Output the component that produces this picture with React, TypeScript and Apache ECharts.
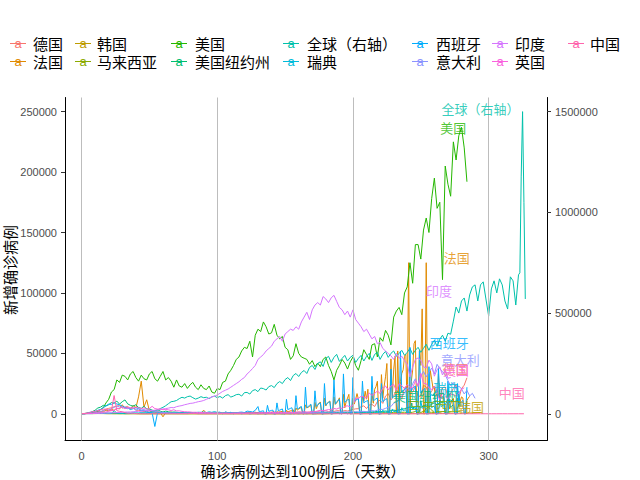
import React, { useEffect, useRef } from "react";
import * as echarts from "echarts";

const LATIN = "'Liberation Sans', Arial, sans-serif";
const CJK = "'Noto Sans CJK SC', 'Liberation Sans', sans-serif";

// ---- axis ticks ----
const xTicks = [0, 100, 200, 300];
const leftTicks = [0, 50000, 100000, 150000, 200000, 250000];
const rightTicks = [0, 500000, 1000000, 1500000];

// ---- series values (thousands of new cases per day); segments: [startDay, stepDays, values] ----
const germanyK = [0.1,0.2,0.3,0.4,0.8,1.0,2.0,1.5,2.8,3.9,4.5,5.0,5.8,6.3,6.9,4.7,5.5,6.1,4.1,5.3,3.0,2.8,2.5,1.8,2.1,1.3,1.5,1.2,0.9,1.3,0.8,0.7,0.9,0.6,0.5,0.8,0.4,0.5,0.3,0.4,0.3,0.4,0.3,0.5,0.4,0.3,0.3,0.5,0.4,0.3,0.6,0.5,0.4,0.6,0.4,0.3,0.5,0.4,0.6,0.4,0.5,0.7,0.6,0.9,0.8,0.9,0.7,1.0,1.2,1.0,1.4,1.5,1.3,1.6,1.2,1.4,1.6,1.3,1.5,1.2,1.5,1.3,1.7,1.2,1.5,1.9,1.6,1.8,1.4,2.1,2.5,1.8,2.3,1.9,2.6,2.5,2.0,2.7,2.3,2.9,3.6,4.1,4.2,5.9,6.6,4.3,7.3,7.8,6.0,10.1,11.2,8.6,14.7,16.8,11.4,15.0,19.6,16.0,12.1,21.5,23.4,16.0,18.0,22.6,14.4,14.0,23.6,22.2,15.7,18.6,22.8,13.6,14.0,21.7,22.1,14.0,17.3,20.8,24.0,12.3,20.8,23.7,29.8];

const franceEarlyK = [0.1,0.1,0.3,0.4,0.8,1.0,1.4,1.8,1.6,3.0,2.5,3.8,2.8,4.6,4.0,7.5,4.3,5.2,3.9,7.0,4.8,14.0,27.0,5.5,11.6,2.5,1.6,2.2,1.8,1.1,-2.5,1.0,0.8,1.5,0.5,0.4,0.3,0.6,0.4,0.3,0.5,0.3,0.4,0.6,0.5,3.0,0.4,0.3,0.5,0.4,0.6,0.5,0.3,0.7,0.5,0.6,0.8,0.5,0.9,0.6,1.0,0.8,1.2,0.9,1.3];
const franceLateK = [
  0.5,0.6,0.8,0.7,1.0,0,0,
  1.2,0.8,1.0,1.1,1.4,0,0,
  1.7,1.0,1.4,1.6,2.3,0,0,
  3.0,1.4,2.0,2.5,2.6,3.3,0,
  4.8,3.0,3.8,4.7,5.4,0,0,
  7.4,4.9,5.4,6.1,7.2,0,0,
  9.4,4.2,7.0,8.6,9.8,0,0,
  13.0,6.5,8.6,9.8,10.6,0,0,
  14.0,7.8,9.0,10.6,13.2,0,0,
  16.1,5.0,10.0,13.0,16.1,0,0,
  12.8,8.0,12.0,16.7,12.1,0,0,
  14.4,10.5,18.7,12.1,20.3,0,0,
  16.9,8.7,20.3,22.6,26.9,0,0,
  32.4,12.9,22.9,30.6,41.6,0,0,
  45.4,13.2,36.4,47.6,0,52.0,0,
  26.8,33.4,36.4,47.6,49.2,0,125.0,
  0,26.8,36.3,58.0,60.5,0,0,
  52.5,40.0,86.8,0,0,125.0,0,
  20.0,35.9,28.4,21.2,23.0,0,0,
  33.0,10.0,16.3,12.5,13.6,0,0,
  12.6,4.0,8.0,11.2,12.7,0,0,
  13.0,6.0,10.2,14.0,13.1,0,0,
  11.0,13.0,14.5,
];

const koreaEarlyK = [0.05,0.2,0.5,0.6,0.8,0.6,0.5,0.4,0.25,0.1,0.1,0.15,0.1,0.15,0.1,0.1,0.1,0.1,0.08,0.1,0.08,0.05,0.04,0.03,0.03];
const koreaMidK = [0.03,0.02,0.05,0.03,0.02,0.03,0.04,0.03,0.05,0.04,0.03,0.05,0.06,0.04,0.05,0.04,0.05,0.06,0.04,0.05,0.03,0.04,0.06,0.05,0.04,0.03,0.04,0.05,0.06,0.04,0.03,0.05,0.08];
const koreaLateK = [0.1,0.2,0.3,0.4,0.3,0.35,0.3,0.25,0.2,0.15,0.12,0.1,0.1,0.11,0.08,0.07,0.1,0.06,0.1,0.08,0.07,0.09,0.1,0.07,0.1,0.08,0.1,0.12,0.1,0.09,0.13,0.1,0.12,0.14,0.1,0.15,0.1,0.13,0.16,0.2,0.2,0.22,0.3,0.35,0.33,0.4,0.5,0.55,0.45,0.5,0.6,0.55,0.5,0.6,0.7,0.65,0.9,0.95];

const malaysiaEarlyK = [0.19,0.12,0.15,0.2,0.1,0.14,0.2,0.17,0.15,0.18,0.12,0.1,0.08,0.06,0.04,0.07,0.05,0.03,0.05,0.07,0.04];
const malaysiaMidK = [0.03,0.02,0.03,0.06,0.02,0.03,0.08,0.04,0.02,0.02,0.01,0.01,0.02,0.01,0.01,0.02,0.01,0.01,0.02,0.01,0.01,0.02,0.02,0.01,0.03,0.02,0.02,0.03,0.02,0.05,0.03,0.04,0.05,0.03,0.04,0.06,0.1,0.26,0.32,0.37];
const malaysiaLateK = [0.3,0.6,0.7,0.9,0.6,0.8,0.7,1.2,0.8,0.9,0.6,1.0,0.8,1.1,1.2,0.9,0.8,1.0,1.2,1.3,1.1,1.0,1.3,1.9,1.2,1.1,1.9,2.5,1.4,1.2,1.1,1.5,1.2,1.9,1.8,1.3,1.6];

const usK = [
  0.1,0.1,0.3,0.5,0.6,1.0,2.0,3.5,5,9,
  12,18,20,28,26,32,31,28,33,35,
  30,27,32,29,28,33,35,29,27,31,
  35,28,30,27,22,28,23,22,25,21,
  24,26,22,20,24,21,20,23,18,17,
  21,20,26,27,33,36,40,45,47,52,
  55,54,60,47,65,70,68,76,72,66,
  67,74,65,62,64,55,53,45,48,58,
  50,47,46,45,41,44,39,42,39,45,
  47,40,35,28,36,40,45,42,37,43,
  47,40,36,44,53,49,45,57,58,47,
  63,60,69,65,57,80,85,88,82,100,
  105,125,108,140,140,128,152,162,150,178,
  195,170,175,111,205,190,180,225,210,230,
  237,220,192,
];

const nyK = [
  0.05,0.1,0.3,0.8,1.8,3.0,4.8,5.5,7.0,6.5,
  7.5,9.3,8.7,10.5,8.0,10.0,11.5,8.2,7.0,6.3,
  7.5,5.2,4.5,6.2,3.9,4.1,3.0,2.4,3.4,2.2,
  1.5,2.2,1.7,1.2,1.5,1.3,1.0,1.1,0.9,0.8,
  0.7,0.8,0.6,0.7,0.6,0.6,0.7,0.6,0.5,0.6,
  0.7,0.6,0.8,0.7,0.6,0.7,0.8,0.6,0.7,0.6,
  0.7,0.8,0.7,0.6,0.7,0.7,0.6,0.7,0.6,0.7,
  0.6,0.7,0.6,0.7,0.6,0.7,0.6,0.7,0.8,0.7,
  0.6,0.7,0.8,0.7,0.9,0.8,1.0,0.9,0.8,0.9,
  1.0,0.9,0.8,1.0,1.1,0.9,1.0,1.2,0.9,1.1,
  1.2,1.0,1.3,1.4,1.1,1.5,1.6,1.3,1.7,1.9,
  1.6,2.0,2.3,2.0,2.6,3.0,2.7,3.2,3.7,4.2,
  5.0,5.6,4.9,5.9,6.3,5.2,6.8,7.3,6.2,8.1,
  9.0,7.4,9.3,10.2,8.4,10.8,11.3,9.6,10.6,11.5,
];

// global: thousands, plotted on the right axis
const globalK = [
  0.3,0.6,1.7,2.0,2.1,2.8,3.2,3.7,3.9,3.5,
  3.0,2.1,15.1,4.0,2.5,1.9,0.8,1.0,1.4,1.8,
  2.3,2.6,3.9,4.5,4.0,7.0,10.5,13.5,17.0,26.0,
  32,40,50,60,62,66,75,82,78,85,
  88,80,73,78,85,80,82,75,84,88,
  80,86,78,90,95,83,88,95,97,88,
  105,106,98,115,120,110,128,125,118,135,
  140,130,150,160,150,170,180,165,190,200,
  185,205,215,200,230,240,220,250,258,235,
  275,285,255,280,295,260,275,290,262,280,
  290,255,275,290,262,285,300,265,295,305,
  270,295,310,280,300,312,285,300,315,290,
  305,325,295,315,330,305,325,345,315,345,
  365,335,370,390,360,400,395,460,530,500,
  560,575,510,590,630,640,560,640,655,570,
  485,620,660,600,670,640,560,520,680,660,
  540,690,
];
const globalEndK = [700, 1180, 1500, 1050, 570];

const swedenEarlyK = [
  0.1,0.1,0.15,0.1,0.2,0.3,0.3,0.4,0.3,0.5,
  0.4,0.5,0.7,0.5,0.6,0.5,0.8,0.7,0.6,0.8,
  0.7,0.6,0.8,0.5,0.7,0.6,0.8,0.7,0.5,0.8,
  0.6,0.7,0.5,0.8,0.6,0.7,0.8,0.6,0.9,1.0,
  0.8,1.1,1.0,1.3,1.2,1.5,1.0,1.6,1.2,1.8,
  1.1,1.4,0,1.6,0.9,1.2,0,0.8,0.6,0,
  0.5,0.4,0,0.3,0.4,0,0.3,0.2,0,0.3,
  0.25,0,0.3,0.25,0,0.3,0.2,0,0.3,0.25,
  0,0.3,0.3,0,0.3,0.25,0,0.3,0.4,0,
  0.4,0.5,0,0.5,0.6,0,0.7,0.6,0,0.8,
];
const swedenLateK = [
  0,1.5,0.8,0.9,1.0,0,0,
  0,1.8,0.9,1.0,1.1,0,0,
  0,2.2,1.0,1.2,1.4,0,0,
  0,3.0,1.3,1.4,1.7,0,0,
  0,4.0,1.8,2.0,2.3,0,0,
  0,5.0,2.5,3.0,3.3,0,0,
  0,9.0,4.0,4.6,5.2,0,0,
  0,11.0,4.5,5.5,5.8,0,0,
  0,15.0,5.0,6.0,6.5,0,0,
  0,14.0,6.0,6.7,7.0,0,0,
  0,12.0,5.5,6.5,7.5,0,0,
  0,18.0,6.5,7.0,
];

const spainEarlyK = [
  0.1,0.2,0.5,1.2,1.5,2.0,2.9,3.6,5.0,6.5,
  8.0,7.8,9.2,8.1,7.5,6.2,5.4,4.8,3.5,4.2,
  5.0,4.3,2.5,2.8,1.5,1.2,0.8,-10.5,1.0,0.7,
  0.5,0.6,0.4,0.3,0.5,0.4,0.3,0.5,0.3,0.2,
  0.4,0.3,0.3,0.2,0.4,0.3,0.3,0.4,0.3,0.5,
  0.4,0.3,0.5,0.6,0.4,0.8,0.9,0.6,1.2,1.4,
  1.0,2.2,1.9,1.5,2.8,
];
const spainLateK = [
  6,1.5,2.0,2.2,2.5,0,0,
  7,2.0,2.5,2.8,3.0,0,0,
  9,2.5,3.0,3.5,4.0,0,0,
  12,3.5,4.0,4.5,5.0,0,0,
  15,4.0,4.5,5.5,6.0,0,0,
  22,5.0,6.0,7.0,8.0,0,0,
  19,6.0,7.5,8.5,9.0,0,0,
  25,7.0,8.5,9.5,10.0,0,0,
  28,8.0,10.0,11.0,12.0,0,0,
  33,9.5,10.5,11.5,12.0,0,0,
  30,10.0,11.0,12.0,12.5,0,0,
  27,9.0,10.0,10.5,11.0,0,0,
  31,11.0,11.5,12.5,13.0,0,0,
  25,10.0,11.0,12.0,12.5,0,0,
  37,13.0,14.0,15.0,16.0,0,0,
  52,18.0,19.0,20.0,22.0,0,0,
  55,19.0,21.0,22.0,23.0,0,0,
  52,17.0,19.0,20.0,21.0,0,0,
  39,14.0,16.0,15.0,17.0,0,0,
  38,12.0,13.0,14.0,15.0,0,0,
  27,9.0,10.0,11.0,10.0,0,0,
  25,8.0,9.0,10.0,11.0,0,0,
  22,
];

const italyK = [
  0.1,0.2,0.3,0.4,0.6,0.8,1.5,1.8,2.6,3.5,3.2,4.2,5.3,6.5,5.6,5.2,4.8,4.2,4.8,4.6,3.0,4.0,3.2,3.5,2.7,3.0,2.3,2.0,1.7,1.4,1.1,1.0,0.8,0.7,0.6,0.5,0.6,0.4,0.4,0.3,0.3,0.3,0.3,0.2,0.3,0.3,0.2,0.2,0.3,0.2,
  0.2,0.2,0.3,0.2,0.2,0.1,0.2,0.3,0.2,0.2,0.2,0.3,0.2,0.3,0.2,0.3,0.2,0.3,0.3,0.2,0.3,0.4,0.3,0.4,0.3,0.4,0.4,0.5,0.4,0.5,
  0.6,0.5,0.8,0.9,1.0,1.1,1.3,1.2,1.4,1.3,1.5,1.4,1.7,1.3,1.6,1.5,1.4,1.6,1.5,1.7,
  1.6,1.8,1.5,1.9,2.0,1.7,2.4,2.5,2.3,3.0,3.7,3.6,4.5,
  5.4,6.0,8.8,10.0,11.7,15.2,17.0,21.3,19.6,24.9,29.0,22.3,31.0,35.0,30.5,34.5,37.8,33.0,40.9,37.3,34.8,32.2,27.4,23.2,25.8,20.6,23.0,20.6,16.4,19.4,14.8,16.9,12.8,
];

const indiaK = [
  0.02,0.02,0.1,0.1,0.2,0.3,0.4,0.4,0.5,0.7,0.6,0.8,0.9,1.0,1.1,1.3,1.4,1.5,1.5,1.7,1.9,2.0,2.1,2.5,2.6,2.5,2.8,3.0,3.2,3.6,4.0,4.3,4.7,5.2,5.0,5.9,6.4,6.8,7.5,8.0,8.6,8.8,9.4,10.0,10.4,
  11,12,13,14,14.5,15.5,17,18.5,19.5,20.5,22,23.5,25,26.5,28.5,30,33,35,37.5,40,
  45,47,49,52,54,56,60,62,64,60,66,68,70,69,72,70,76,80,84,78,86,90,92,90,97,95,92,96,98,93,88,86,82,85,80,86,78,75,72,68,70,66,62,64,58,59,54,52,50,48,45,50,46,47.6,44,41.1,30.5,38.6,45,46.2,44.3,38.8,37.9,44.4,41.3,31.1,36.6,38.8,32.1,36.6,29.4,30,
];

const ukK = [0.05,0.1,0.2,0.3,0.4,0.7,0.7,1.0,1.4,1.5,2.1,2.6,2.9,4.3,4.5,5.9,4.3,5.2,5.0,4.6,5.4,4.9,4.3,4.9,3.8,4.3,6.2,4.3,3.9,4.0,3.4,3.5,3.3,2.7,3.3,2.4,2.4,2.0,1.7,1.6,1.5,1.2,1.3,1.0,1.1,0.9,1.0,0.8,0.7,0.6,0.8,0.6,0.5,0.7,0.6,0.5,0.7,0.6,0.8,0.7,0.6,0.8,0.7,0.9,0.8,0.7,1.0,0.9,0.8,1.1,1.0,1.1,0.9,1.2,1.0,1.0,1.3,1.1,1.0,1.2,1.5,1.3,1.6,1.4,1.3,1.8,1.6,2.4,2.9,2.6,3.0,3.5,3.3,4.4,3.9,4.9,4.4,6.2,6.6,5.7,7.1,12.9,12.6,14.5,13.9,12.9,17.2,15.2,16.9,18.8,16.9,21.3,23.0,19.8,22.9,24.4,18.9,25.0,23.2,20.9,24.1,22.0,21.4,27.3,23.3,33.5,25.3,24.9,21.4,20.1,22.9,18.7,11.3,17.5,14.9,12.2,16.2,15.9,14.7,17.2,20.3,21.5];

const chinaEarlyK = [0.08,0.3,0.5,1.0,1.8,2.1,2.6,3.2,3.9,3.7,3.1,2.5,15.1,2.6,2.0,1.7,0.9,0.4,0.5,0.4,0.2,0.1,0.04,0.02,0.03,0.02,0.03,0.05,0.06,0.05,0.1,0.05,0.06];
const chinaLateK = [0.06,0.05,0.08,0.1,0.35,0.03,0.02,0.01,0.01,0.02,0.01,0.02,0.01,0.01,0.01,0.02,0.01,0.01,0.02,0.03,0.02,0.03,0.02,0.04,0.03,0.1,0.05,0.04,0.03,0.02,0.03,0.02,0.02,0.03,0.02,0.02,0.03,0.02,0.01,0.02,0.03,0.02,0.02,0.03,0.02,0.01,0.02,0.03,0.02,0.02,0.03,0.02,0.03,0.02,0.03,0.02,0.01,0.02,0.03,0.02,0.02,0.03,0.02,0.02,0.03,0.02];

// ---- series table ----
type Seg = [number, number, number[]];
const seriesNames = ["德国", "法国", "韩国", "马来西亚", "美国", "美国纽约州", "全球（右轴）", "瑞典", "西班牙", "意大利", "印度", "英国", "中国"];
const seriesColors = ["#F8766D", "#E18A00", "#BE9C00", "#8CAB00", "#24B700", "#00BE70", "#00C1AB", "#00BBDA", "#00ACFC", "#8B93FF", "#D575FE", "#F962DD", "#FF65AC"];
const seriesSegs: Seg[][] = [
  [[0, 2, germanyK]],
  [[0, 2, franceEarlyK], [130, 1, franceLateK]],
  [[0, 2, koreaEarlyK], [50, 4, koreaMidK], [180, 2, koreaLateK]],
  [[0, 2, malaysiaEarlyK], [42, 4, malaysiaMidK], [200, 2, malaysiaLateK]],
  [[0, 2, usK]],
  [[0, 2, nyK]],
  [[0, 2, globalK], [323, 1, globalEndK]],
  [[0, 2, swedenEarlyK], [200, 1, swedenLateK]],
  [[0, 2, spainEarlyK], [130, 1, spainLateK]],
  [[0, 2, italyK]],
  [[0, 2, indiaK]],
  [[0, 2, ukK]],
  [[0, 2, chinaEarlyK], [66, 4, chinaLateK]],
];
const rightAxisSeries = "全球（右轴）";

// ---- end labels (day, thousands on the left axis scale) ----
const labelNames = ["全球（右轴）", "美国", "法国", "印度", "西班牙", "意大利", "德国", "英国", "瑞典", "美国纽约州", "马来西亚", "韩国", "中国"];
const labelDays = [294, 274, 276.5, 263.5, 271, 279, 275.5, 276, 269, 253.5, 260.5, 287, 317];
const labelK = [252.3, 236.6, 129, 101.7, 58.7, 44.7, 37.2, 36.5, 21.5, 14.9, 6.6, 5.8, 17.4];

function segData(segs: Seg[]) {
  const out: number[][] = [];
  for (const [start, step, vals] of segs) {
    vals.forEach((v, i) => out.push([start + i * step, v * 1000]));
  }
  return out;
}

// legend layout (two rows, filled column by column)
const legendKeyX = [18, 83, 179, 291, 420, 500, 576];
const legendTextX = [33, 97, 195, 307, 436, 515, 590];
const legendRowY = [43.5, 61.5];

function buildOption() {
  const colorOf: Record<string, string> = {};
  seriesNames.forEach((n, i) => (colorOf[n] = seriesColors[i]));

  const lineSeries: any[] = seriesNames.map((name, i) => ({
    type: "line",
    name,
    yAxisIndex: name === rightAxisSeries ? 1 : 0,
    data: segData(seriesSegs[i]),
    showSymbol: false,
    symbol: "none",
    lineStyle: { color: seriesColors[i], width: 1 },
    itemStyle: { color: seriesColors[i] },
    silent: true,
    z: 3,
  }));

  const gridSeries = {
    type: "line",
    name: "grid",
    data: [],
    z: 1,
    silent: true,
    markLine: {
      silent: true,
      symbol: ["none", "none"],
      label: { show: false },
      lineStyle: { color: "#BDBDBD", width: 1, type: "solid" },
      data: xTicks.map((v) => ({ xAxis: v })),
    },
  };

  const labelSeries = {
    type: "scatter",
    name: "labels",
    symbolSize: 1,
    itemStyle: { color: "rgba(0,0,0,0)" },
    silent: true,
    z: 10,
    data: labelNames.map((n, i) => ({
      value: [labelDays[i], labelK[i] * 1000],
      label: {
        show: true,
        position: "inside",
        formatter: n,
        color: colorOf[n],
        fontSize: 13,
        fontFamily: CJK,
      },
    })),
  };

  const graphic: any[] = [];
  seriesNames.forEach((n, i) => {
    const col = Math.floor(i / 2);
    const row = i % 2;
    const kx = legendKeyX[col];
    const ty = legendRowY[row];
    graphic.push({
      type: "line",
      shape: { x1: kx - 8, y1: ty, x2: kx + 8, y2: ty },
      style: { stroke: seriesColors[i], lineWidth: 1 },
      silent: true,
    });
    graphic.push({
      type: "text",
      x: kx,
      y: ty,
      style: { text: "a", fill: seriesColors[i], fontSize: 13, fontFamily: LATIN, align: "center", verticalAlign: "middle" },
      silent: true,
    });
    graphic.push({
      type: "text",
      x: legendTextX[col],
      y: ty,
      style: { text: n, fill: "#000", fontSize: 15, fontFamily: CJK, align: "left", verticalAlign: "middle" },
      silent: true,
    });
  });
  graphic.push({
    type: "text",
    x: 303,
    y: 470,
    style: { text: "确诊病例达到100例后（天数）", fill: "#000", fontSize: 15, fontFamily: CJK, align: "center", verticalAlign: "middle" },
    silent: true,
  });
  graphic.push({
    type: "text",
    x: 9,
    y: 270,
    rotation: Math.PI / 2,
    style: { text: "新增确诊病例", fill: "#000", fontSize: 15, fontFamily: CJK, align: "center", verticalAlign: "middle" },
    silent: true,
  });

  const plain = (v: number) => String(Math.round(v));
  const tickLabel = { color: "#4D4D4D", fontSize: 11, fontFamily: LATIN, formatter: plain };

  return {
    animation: false,
    backgroundColor: "#FFFFFF",
    textStyle: { fontFamily: CJK },
    grid: { left: 65, right: 93, top: 97.5, bottom: 39.5, containLabel: false },
    xAxis: {
      type: "value",
      min: -12.2,
      max: 343,
      axisLine: { show: true, onZero: false, lineStyle: { color: "#000", width: 1 } },
      axisTick: { show: false, customValues: xTicks },
      axisLabel: { ...tickLabel, customValues: xTicks, margin: 10 },
      splitLine: { show: false },
    },
    yAxis: [
      {
        type: "value",
        position: "left",
        min: -22100,
        max: 261700,
        axisLine: { show: true, onZero: false, lineStyle: { color: "#000", width: 1 } },
        axisTick: { show: true, length: 4, customValues: leftTicks, lineStyle: { color: "#333" } },
        axisLabel: { ...tickLabel, customValues: leftTicks, margin: 8 },
        splitLine: { show: false },
      },
      {
        type: "value",
        position: "right",
        min: -132600,
        max: 1570200,
        axisLine: { show: true, onZero: false, lineStyle: { color: "#000", width: 1 } },
        axisTick: { show: true, length: 4, customValues: rightTicks, lineStyle: { color: "#333" } },
        axisLabel: { ...tickLabel, customValues: rightTicks, margin: 8 },
        splitLine: { show: false },
      },
    ],
    series: [gridSeries, ...lineSeries, labelSeries],
    graphic,
  };
}

export default function App() {
  const ref = useRef<HTMLDivElement>(null);
  useEffect(() => {
    if (!ref.current) return;
    const chart = echarts.init(ref.current, null, { renderer: "svg" });
    chart.setOption(buildOption() as any);
    return () => chart.dispose();
  }, []);
  return <div ref={ref} style={{ position: "fixed", left: 0, top: 0, width: 640, height: 480, background: "#fff" }} />;
}
